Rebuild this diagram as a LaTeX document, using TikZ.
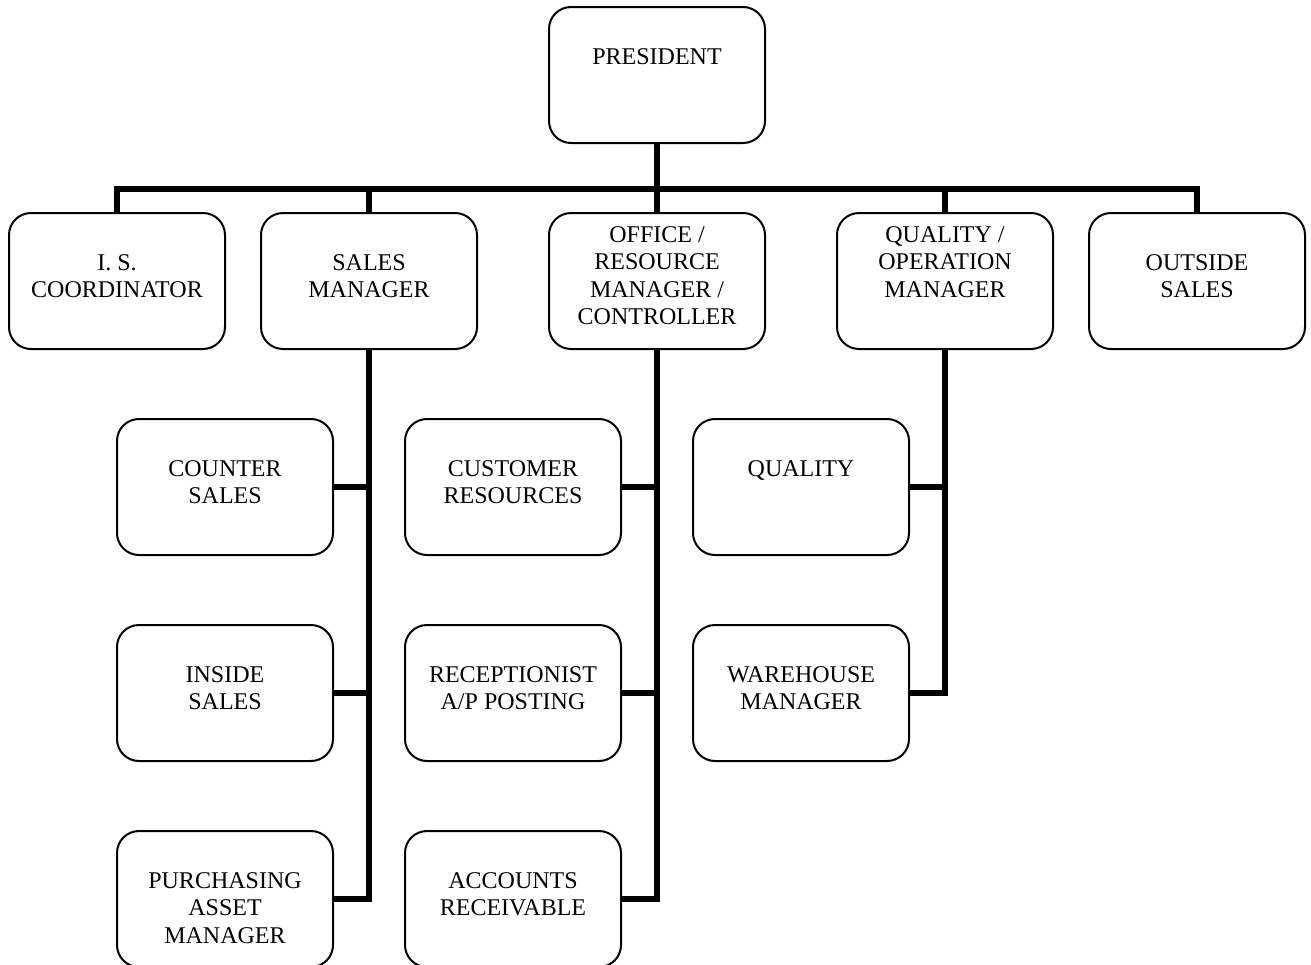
\documentclass[tikz,border=0pt]{standalone}
\usepackage{fontspec}
\setmainfont{Liberation Serif}
\begin{document}
\begin{tikzpicture}[x=0.5pt,y=-0.5pt,
  box/.style={draw=black, line width=1pt, rounded corners=11pt, minimum width=108pt,
              minimum height=68pt, inner sep=0pt, outer sep=0pt, fill=white},
  txt/.style={anchor=north, inner sep=0pt, align=center, font=\fontsize{12}{13.75}\selectfont},
  link/.style={line width=2.8pt, line join=miter, line cap=butt}]
\useasboundingbox (0,0) rectangle (1311,964);
\clip (0,0) rectangle (1311,964);

% boxes
\node[box] (pres)    at (657,75)  {};
\node[box] (is)      at (117,281) {};
\node[box] (sales)   at (369,281) {};
\node[box] (office)  at (657,281) {};
\node[box] (qual)    at (945,281) {};
\node[box] (outside) at (1197,281) {};
\node[box] (counter) at (225,487) {};
\node[box] (inside)  at (225,693) {};
\node[box] (purch)   at (225,899) {};
\node[box] (cust)    at (513,487) {};
\node[box] (recep)   at (513,693) {};
\node[box] (acct)    at (513,899) {};
\node[box] (quality) at (801,487) {};
\node[box] (ware)    at (801,693) {};

% texts
\node[txt] (pres-t)    at ([yshift=-20.5pt]pres.north)    {PRESIDENT};
\node[txt] (is-t)      at ([yshift=-20.5pt]is.north)      {I. S.\\COORDINATOR};
\node[txt] (sales-t)   at ([yshift=-20.5pt]sales.north)   {SALES\\MANAGER};
\node[txt] (office-t)  at ([yshift=-6.5pt]office.north)   {OFFICE /\\RESOURCE\\MANAGER /\\CONTROLLER};
\node[txt] (qual-t)    at ([yshift=-6.5pt]qual.north)     {QUALITY /\\OPERATION\\MANAGER};
\node[txt] (outside-t) at ([yshift=-20.5pt]outside.north) {OUTSIDE\\SALES};
\node[txt] (counter-t) at ([yshift=-20.5pt]counter.north) {COUNTER\\SALES};
\node[txt] (inside-t)  at ([yshift=-20.5pt]inside.north)  {INSIDE\\SALES};
\node[txt] (purch-t)   at ([yshift=-20.5pt]purch.north)   {PURCHASING\\ASSET\\MANAGER};
\node[txt] (cust-t)    at ([yshift=-20.5pt]cust.north)    {CUSTOMER\\RESOURCES};
\node[txt] (recep-t)   at ([yshift=-20.5pt]recep.north)   {RECEPTIONIST\\A/P POSTING};
\node[txt] (acct-t)    at ([yshift=-20.5pt]acct.north)    {ACCOUNTS\\RECEIVABLE};
\node[txt] (quality-t) at ([yshift=-20.5pt]quality.north) {QUALITY};
\node[txt] (ware-t)    at ([yshift=-20.5pt]ware.north)    {WAREHOUSE\\MANAGER};

% connectors
\coordinate (bus) at (657,189);
\draw[link] (pres.south) -- (bus);
\draw[link] (is.north) |- (bus) -| (outside.north);
\draw[link] (sales.north) -- (sales.north |- bus);
\draw[link] (office.north) -- (office.north |- bus);
\draw[link] (qual.north) -- (qual.north |- bus);

\draw[link] (sales.south) |- (purch.east);
\draw[link] (counter.east) -- (counter.east -| sales.south);
\draw[link] (inside.east) -- (inside.east -| sales.south);

\draw[link] (office.south) |- (acct.east);
\draw[link] (cust.east) -- (cust.east -| office.south);
\draw[link] (recep.east) -- (recep.east -| office.south);

\draw[link] (qual.south) |- (ware.east);
\draw[link] (quality.east) -- (quality.east -| qual.south);
\end{tikzpicture}
\end{document}
